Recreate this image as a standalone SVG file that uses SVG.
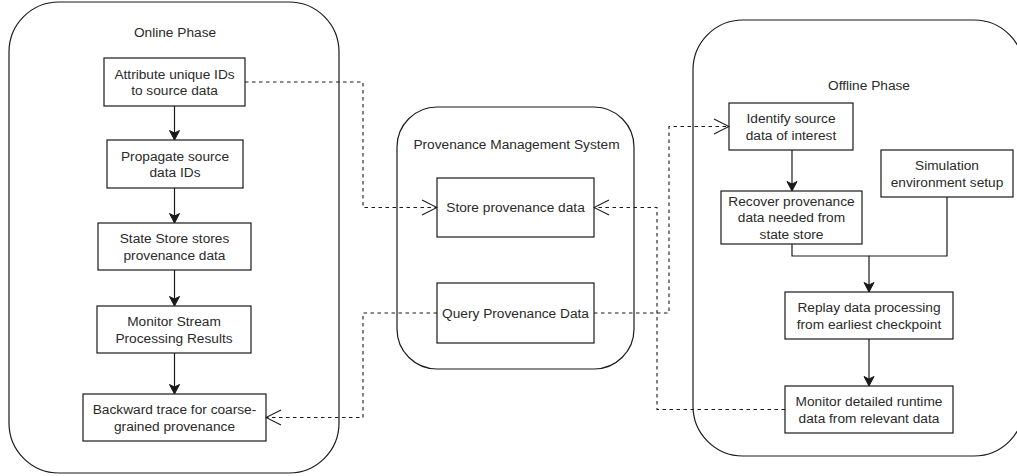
<svg xmlns="http://www.w3.org/2000/svg" width="1017" height="476" viewBox="0 0 1017 476">
  <style>
    .container { fill: #ffffff; stroke: #1a1a1a; stroke-width: 1.2; }
    .box { fill: #ffffff; stroke: #1a1a1a; stroke-width: 1.2; }
    .label { font-family: "Liberation Sans", Arial, sans-serif; font-size: 13.7px; fill: #2a2a2a; text-anchor: middle; }
    .flow { fill: none; stroke: #1a1a1a; stroke-width: 1.2; }
    .link { fill: none; stroke: #1a1a1a; stroke-width: 1.1; stroke-dasharray: 3.5 3.5; }
  </style>
  <defs>
    <marker id="solidArrow" markerUnits="userSpaceOnUse" viewBox="-10 -6 11 12" markerWidth="11" markerHeight="12" refX="0" refY="0" orient="auto">
      <path d="M0,0 L-9.5,-5 L-7,0 L-9.5,5 Z" fill="#1a1a1a" stroke="#1a1a1a" stroke-width="1"/>
    </marker>
    <marker id="openArrow" markerUnits="userSpaceOnUse" viewBox="-17 -10 18 20" markerWidth="18" markerHeight="20" refX="0" refY="0" orient="auto">
      <path d="M-15,-7.5 L0,0 L-15,7.5" fill="none" stroke="#1a1a1a" stroke-width="1.1"/>
    </marker>
  </defs>

  <rect width="1017" height="476" fill="#ffffff"/>

  <!-- Phase containers -->
  <g id="online-phase">
    <rect class="container" x="9" y="2" width="330" height="471" rx="50" ry="50"/>
    <text class="label" x="175" y="36.5">Online Phase</text>
  </g>
  <g id="provenance-system">
    <rect class="container" x="397" y="107" width="237" height="262" rx="40" ry="40"/>
    <text class="label" x="516.5" y="149">Provenance Management System</text>
  </g>
  <g id="offline-phase">
    <rect class="container" x="693" y="20" width="331" height="436" rx="50" ry="50"/>
    <text class="label" x="869" y="90">Offline Phase</text>
  </g>

  <!-- Online phase steps -->
  <g id="attribute-ids">
    <rect class="box" x="104" y="58" width="141" height="48"/>
    <text class="label" x="174.5" y="78.6">Attribute unique IDs</text>
    <text class="label" x="174.5" y="95">to source data</text>
  </g>
  <g id="propagate-ids">
    <rect class="box" x="107" y="140" width="136" height="48"/>
    <text class="label" x="175" y="160.6">Propagate source</text>
    <text class="label" x="175" y="177">data IDs</text>
  </g>
  <g id="state-store">
    <rect class="box" x="98" y="223" width="153" height="47"/>
    <text class="label" x="174.5" y="243.1">State Store stores</text>
    <text class="label" x="174.5" y="259.5">provenance data</text>
  </g>
  <g id="monitor-results">
    <rect class="box" x="97" y="306" width="154" height="47"/>
    <text class="label" x="174" y="326.1">Monitor Stream</text>
    <text class="label" x="174" y="342.5">Processing Results</text>
  </g>
  <g id="backward-trace">
    <rect class="box" x="83" y="394" width="183" height="47"/>
    <text class="label" x="174.5" y="414.1">Backward trace for coarse-</text>
    <text class="label" x="174.5" y="430.5">grained provenance</text>
  </g>

  <!-- Provenance management operations -->
  <g id="store-provenance">
    <rect class="box" x="437" y="178" width="157" height="59"/>
    <text class="label" x="515.5" y="212.3">Store provenance data</text>
  </g>
  <g id="query-provenance">
    <rect class="box" x="437" y="283" width="157" height="60"/>
    <text class="label" x="515.5" y="317.8">Query Provenance Data</text>
  </g>

  <!-- Offline phase steps -->
  <g id="identify-source">
    <rect class="box" x="729" y="103" width="124" height="47"/>
    <text class="label" x="791" y="123.1">Identify source</text>
    <text class="label" x="791" y="139.5">data of interest</text>
  </g>
  <g id="simulation-setup">
    <rect class="box" x="881" y="150" width="132" height="47"/>
    <text class="label" x="947" y="170.1">Simulation</text>
    <text class="label" x="947" y="186.5">environment setup</text>
  </g>
  <g id="recover-provenance">
    <rect class="box" x="721" y="191" width="141" height="53"/>
    <text class="label" x="791.5" y="206">Recover provenance</text>
    <text class="label" x="791.5" y="222.3">data needed from</text>
    <text class="label" x="791.5" y="238.6">state store</text>
  </g>
  <g id="replay-processing">
    <rect class="box" x="785" y="292" width="168" height="47"/>
    <text class="label" x="869" y="312.1">Replay data processing</text>
    <text class="label" x="869" y="328.5">from earliest checkpoint</text>
  </g>
  <g id="monitor-runtime">
    <rect class="box" x="785" y="386" width="168" height="47"/>
    <text class="label" x="869" y="406.1">Monitor detailed runtime</text>
    <text class="label" x="869" y="422.5">data from relevant data</text>
  </g>

  <!-- Connectors -->
  <g id="connectors">
    <!-- online flow -->
    <path class="flow" d="M174.5,106 V140" marker-end="url(#solidArrow)"/>
    <path class="flow" d="M174.5,188 V223" marker-end="url(#solidArrow)"/>
    <path class="flow" d="M174.5,270 V306" marker-end="url(#solidArrow)"/>
    <path class="flow" d="M174.5,353 V394" marker-end="url(#solidArrow)"/>

    <!-- offline flow: recovery and setup merge into replay -->
    <path class="flow" d="M792,150 V191" marker-end="url(#solidArrow)"/>
    <path class="flow" d="M792,244 V256 H869 V292" marker-end="url(#solidArrow)"/>
    <path class="flow" d="M947,197 V256 H869"/>
    <path class="flow" d="M869,339 V386" marker-end="url(#solidArrow)"/>

    <!-- links to and from the provenance system -->
    <path class="link" d="M245,82 H363 V207.5 H437" marker-end="url(#openArrow)"/>
    <path class="link" d="M785,409.5 H657 V207.5 H594" marker-end="url(#openArrow)"/>
    <path class="link" d="M594,313 H669 V126.5 H729" marker-end="url(#openArrow)"/>
    <path class="link" d="M437,313 H363 V417.5 H266" marker-end="url(#openArrow)"/>
  </g>
</svg>
